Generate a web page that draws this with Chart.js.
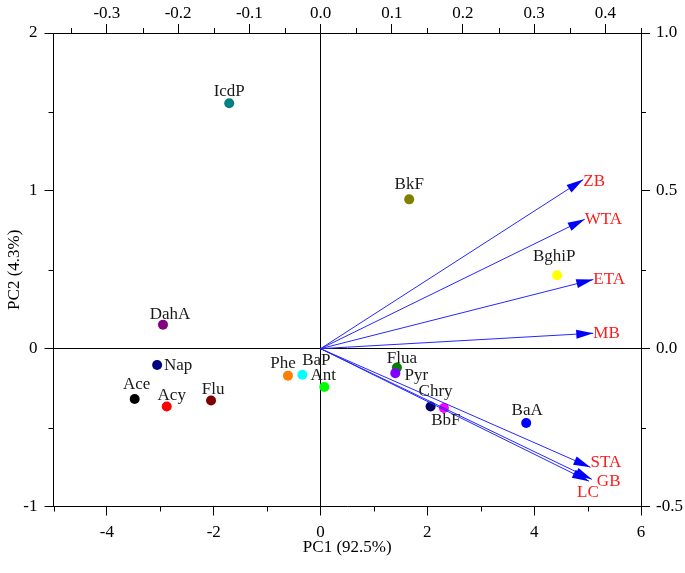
<!DOCTYPE html>
<html>
<head>
<meta charset="utf-8">
<script src="https://cdn.jsdelivr.net/npm/chart.js@4.4.1/dist/chart.umd.min.js"></script>
<style>
  html, body { margin: 0; padding: 0; background: #fff; }
  canvas { display: block; }
</style>
</head>
<body>
<canvas id="biplot" width="685" height="573"></canvas>
<script>
// PAH scores (bottom / left axes)
const compounds = ['IcdP', 'BkF', 'BghiP', 'DahA', 'Nap', 'Ace', 'Acy', 'Flu',
                   'Phe', 'BaP', 'Ant', 'Flua', 'Pyr', 'Chry', 'BbF', 'BaA'];
const pc1Scores = [-1.71, 1.66, 4.43, -2.95, -3.06, -3.48, -2.88, -2.05,
                   -0.61, -0.34, 0.07, 1.43, 1.40, 2.06, 2.31, 3.85];
const pc2Scores = [1.555, 0.946, 0.465, 0.152, -0.104, -0.319, -0.366, -0.328,
                   -0.171, -0.165, -0.243, -0.120, -0.155, -0.366, -0.376, -0.471];

// source loadings (top / right axes)
const sources = ['ZB', 'WTA', 'ETA', 'MB', 'STA', 'GB', 'LC'];
const pc1Loadings = [0.369, 0.371, 0.383, 0.383, 0.379, 0.381, 0.377];
const pc2Loadings = [0.536, 0.410, 0.219, 0.049, -0.376, -0.414, -0.420];

// axis ticks
const pc1Ticks = [-4, -2, 0, 2, 4, 6];
const pc1Minor = [-5, -3, -1, 1, 3, 5];
const pc2Ticks = [-1, 0, 1, 2];
const pc2Minor = [-0.5, 0.5, 1.5];
const load1Ticks = [-0.3, -0.2, -0.1, 0.0, 0.1, 0.2, 0.3, 0.4];
const load1Minor = [-0.35, -0.25, -0.15, -0.05, 0.05, 0.15, 0.25, 0.35, 0.45];
const load2Ticks = [-0.5, 0.0, 0.5, 1.0];
const load2Minor = [-0.25, 0.25, 0.75];

const pointColors = ['#008080', '#808000', '#ffff00', '#800080', '#000080', '#000000', '#ff0000', '#800000',
                     '#ff8000', '#00ffff', '#00ff00', '#008000', '#8000ff', '#000060', '#ff00ff', '#0000ff'];

// label offsets (text centre relative to the dot)
const labelShift = {
    IcdP: [0, -12], BkF: [0, -15], BghiP: [-3, -19], DahA: [7, -10], Nap: [21, 0],
    Ace: [2, -14], Acy: [5, -11], Flu: [2, -11], Phe: [-5, -12], BaP: [14, -14],
    Ant: [-1, -11], Flua: [5, -9], Pyr: [21, 2], Chry: [5, -15], BbF: [2, 13], BaA: [1, -12]
};
// red labels, left aligned, relative to arrow tip
const sourceShift = {
    ZB: [0, 2], WTA: [0, 0], ETA: [0, 0], MB: [0, 0], STA: [0, -5], GB: [5, 2], LC: [-12, 11]
};

const minorTicks = { x: pc1Minor, x2: load1Minor, y: pc2Minor, y2: load2Minor };

Chart.defaults.font.family = "'Liberation Serif', 'Times New Roman', serif";
Chart.defaults.font.size = 17;
Chart.defaults.color = '#000';

function fixSize(size) {
    return function(scale) {
        if (scale.isHorizontal()) {
            scale.height = size;
        } else {
            scale.width = size;
        }
    };
}

function setTicks(values) {
    return function(scale) {
        scale.ticks = values.map(v => ({ value: v }));
    };
}

function zeroLine(ctx) {
    return ctx.tick && ctx.tick.value === 0 ? '#000' : 'rgba(0,0,0,0)';
}

const biplotDecor = {
    id: 'biplotDecor',
    afterDatasetsDraw(chart) {
        const ctx = chart.ctx;
        ctx.save();

        // minor ticks
        ctx.strokeStyle = '#000';
        ctx.lineWidth = 1;
        Object.keys(minorTicks).forEach(id => {
            const scale = chart.scales[id];
            minorTicks[id].forEach(v => {
                const p = Math.round(scale.getPixelForValue(v)) + 0.5;
                ctx.beginPath();
                if (id === 'x') {
                    ctx.moveTo(p, scale.top); ctx.lineTo(p, scale.top + 5);
                } else if (id === 'x2') {
                    ctx.moveTo(p, scale.bottom); ctx.lineTo(p, scale.bottom - 5);
                } else if (id === 'y') {
                    ctx.moveTo(scale.right, p); ctx.lineTo(scale.right - 5, p);
                } else {
                    ctx.moveTo(scale.left, p); ctx.lineTo(scale.left + 5, p);
                }
                ctx.stroke();
            });
        });

        // arrow heads and source names
        chart.data.datasets.forEach((ds, i) => {
            if (!ds.source) return;
            const pts = chart.getDatasetMeta(i).data;
            const a = pts[0], b = pts[1];
            const ang = Math.atan2(b.y - a.y, b.x - a.x);
            const len = 17, half = 4.5;
            const bx = b.x - len * Math.cos(ang), by = b.y - len * Math.sin(ang);
            ctx.fillStyle = '#0000ff';
            ctx.beginPath();
            ctx.moveTo(b.x, b.y);
            ctx.lineTo(bx + half * Math.sin(ang), by - half * Math.cos(ang));
            ctx.lineTo(bx - half * Math.sin(ang), by + half * Math.cos(ang));
            ctx.closePath();
            ctx.fill();

            const s = sourceShift[ds.source];
            ctx.fillStyle = '#ff1a1a';
            ctx.font = "17px 'Liberation Serif', serif";
            ctx.textAlign = 'left';
            ctx.textBaseline = 'middle';
            ctx.fillText(ds.source, b.x + s[0], b.y + s[1]);
        });

        // compound names
        const meta = chart.getDatasetMeta(0);
        ctx.fillStyle = '#1a1a1a';
        ctx.textAlign = 'center';
        ctx.textBaseline = 'middle';
        meta.data.forEach((p, i) => {
            const s = labelShift[compounds[i]];
            ctx.fillText(compounds[i], p.x + s[0], p.y + s[1]);
        });

        ctx.restore();
    }
};

const datasets = [{
    label: 'PAHs',
    data: compounds.map((c, i) => ({ x: pc1Scores[i], y: pc2Scores[i] })),
    pointBackgroundColor: pointColors,
    pointBorderWidth: 0,
    pointRadius: 5,
    xAxisID: 'x',
    yAxisID: 'y',
    order: 1
}];

sources.forEach((s, i) => {
    datasets.push({
        label: s,
        source: s,
        data: [{ x: 0, y: 0 }, { x: pc1Loadings[i], y: pc2Loadings[i] }],
        showLine: true,
        borderColor: '#2626ff',
        borderWidth: 1,
        pointRadius: 0,
        xAxisID: 'x2',
        yAxisID: 'y2',
        order: 0
    });
});

new Chart(document.getElementById('biplot'), {
    type: 'scatter',
    data: { datasets: datasets },
    options: {
        responsive: false,
        animation: false,
        devicePixelRatio: 1,
        layout: { padding: 0 },
        plugins: {
            legend: { display: false },
            tooltip: { enabled: false }
        },
        scales: {
            x: {
                type: 'linear',
                position: 'bottom',
                min: -5,
                max: 6,
                afterBuildTicks: setTicks(pc1Ticks),
                afterFit: fixSize(66.5),
                ticks: { padding: 7, callback: v => String(v) },
                grid: { color: zeroLine, tickColor: '#000', tickLength: 9, lineWidth: 1 },
                border: { display: true, color: '#000', width: 1 },
                title: { display: true, text: 'PC1 (92.5%)', padding: { top: 0, bottom: 15 } }
            },
            x2: {
                type: 'linear',
                position: 'top',
                min: -0.375,
                max: 0.45,
                afterBuildTicks: setTicks(load1Ticks),
                afterFit: fixSize(33),
                ticks: { padding: 0, callback: v => v.toFixed(1) },
                grid: { drawOnChartArea: false, color: '#000', tickColor: '#000', tickLength: 9 },
                border: { display: true, color: '#000', width: 1 }
            },
            y: {
                type: 'linear',
                position: 'left',
                min: -1,
                max: 2,
                afterBuildTicks: setTicks(pc2Ticks),
                afterFit: fixSize(53.5),
                ticks: { padding: 7, callback: v => String(v) },
                grid: { color: zeroLine, tickColor: '#000', tickLength: 9, lineWidth: 1 },
                border: { display: true, color: '#000', width: 1 },
                title: { display: true, text: 'PC2 (4.3%)', padding: { top: 4, bottom: 0 } }
            },
            y2: {
                type: 'linear',
                position: 'right',
                min: -0.5,
                max: 1.0,
                afterBuildTicks: setTicks(load2Ticks),
                afterFit: fixSize(44),
                ticks: { padding: 6, callback: v => v.toFixed(1) },
                grid: { drawOnChartArea: false, color: '#000', tickColor: '#000', tickLength: 9 },
                border: { display: true, color: '#000', width: 1 }
            }
        }
    },
    plugins: [biplotDecor]
});
</script>
</body>
</html>
